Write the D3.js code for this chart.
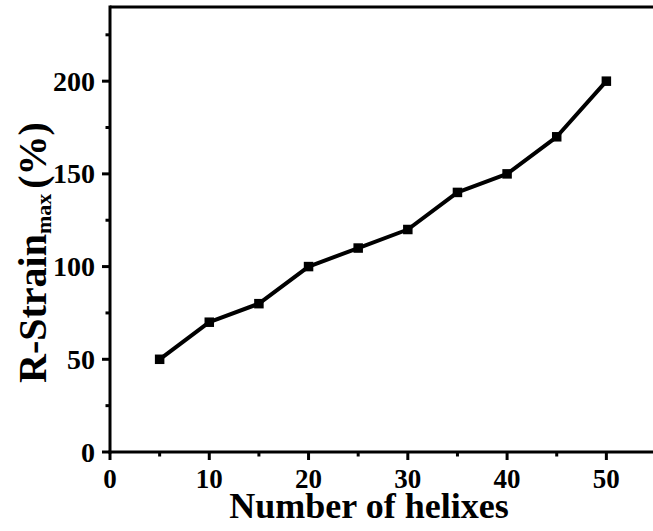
<!DOCTYPE html>
<html>
<head>
<meta charset="utf-8">
<script src="https://cdn.jsdelivr.net/npm/d3@7"></script>
<style>
  html, body { margin: 0; padding: 0; background: #fff; }
  svg { display: block; }
  text { font-family: "Liberation Serif", "Times New Roman", serif; font-weight: bold; fill: #000; }
</style>
</head>
<body>
<script>
// Number of helixes vs. maximum recoverable strain
const helixes = [5, 10, 15, 20, 25, 30, 35, 40, 45, 50];
const strainMax = [50, 70, 80, 100, 110, 120, 140, 150, 170, 200];
const xMajorTicks = [0, 10, 20, 30, 40, 50];
const xMinorTicks = [5, 15, 25, 35, 45];
const yMajorTicks = [0, 50, 100, 150, 200];
const yMinorTicks = [25, 75, 125, 175, 225];

const W = 653, H = 531;
const svg = d3.select("body").append("svg").attr("width", W).attr("height", H);

const x = d3.scaleLinear().domain([0, 55]).range([110, 656]);
const y = d3.scaleLinear().domain([0, 240]).range([452, 7]);

const axisW = 3;

// frame: top edge (right side runs off the page)
svg.append("line")
  .attr("x1", x(0)).attr("x2", W + 5)
  .attr("y1", y(240)).attr("y2", y(240))
  .attr("stroke", "#000").attr("stroke-width", axisW);

// bottom axis
const gx = svg.append("g").attr("transform", `translate(0,${y(0)})`);
gx.append("line").attr("x1", x(0) - 1.5).attr("x2", W + 5)
  .attr("stroke", "#000").attr("stroke-width", axisW);
gx.selectAll(".maj").data(xMajorTicks).join("line")
  .attr("x1", d => x(d)).attr("x2", d => x(d)).attr("y1", 0).attr("y2", 8)
  .attr("stroke", "#000").attr("stroke-width", axisW);
gx.selectAll(".min").data(xMinorTicks).join("line")
  .attr("x1", d => x(d)).attr("x2", d => x(d)).attr("y1", 0).attr("y2", 4.5)
  .attr("stroke", "#000").attr("stroke-width", axisW);
gx.selectAll("text").data(xMajorTicks).join("text")
  .attr("x", d => x(d)).attr("y", 36)
  .attr("text-anchor", "middle").attr("font-size", 27)
  .text(d => d);

// left axis
const gy = svg.append("g").attr("transform", `translate(${x(0)},0)`);
gy.append("line").attr("y1", y(240) - 1.5).attr("y2", y(0) + 1.5)
  .attr("stroke", "#000").attr("stroke-width", axisW);
gy.selectAll(".maj").data(yMajorTicks).join("line")
  .attr("y1", d => y(d)).attr("y2", d => y(d)).attr("x1", 0).attr("x2", -8)
  .attr("stroke", "#000").attr("stroke-width", axisW);
gy.selectAll(".min").data(yMinorTicks).join("line")
  .attr("y1", d => y(d)).attr("y2", d => y(d)).attr("x1", 0).attr("x2", -4.5)
  .attr("stroke", "#000").attr("stroke-width", axisW);
gy.selectAll("text").data(yMajorTicks).join("text")
  .attr("x", -15).attr("y", d => y(d) + 9.5)
  .attr("text-anchor", "end").attr("font-size", 28)
  .text(d => d);

// axis titles
svg.append("text")
  .attr("x", 369).attr("y", 518)
  .attr("text-anchor", "middle").attr("font-size", 36)
  .text("Number of helixes");

const yt = svg.append("text")
  .attr("transform", "translate(46,383) rotate(-90)")
  .attr("text-anchor", "start").attr("font-size", 40);
yt.append("tspan").text("R-Strain");
yt.append("tspan").attr("font-size", 22).attr("dy", 5).text("max");
yt.append("tspan").attr("dy", -5).attr("dx", 5).text("(%)");

// data line and square markers
const pts = helixes.map((h, i) => [h, strainMax[i]]);
svg.append("path")
  .datum(pts)
  .attr("fill", "none").attr("stroke", "#000").attr("stroke-width", 4)
  .attr("stroke-linejoin", "round")
  .attr("d", d3.line().x(d => x(d[0])).y(d => y(d[1])));

const s = 9.5;
svg.selectAll("rect.mk").data(pts).join("rect")
  .attr("class", "mk")
  .attr("x", d => x(d[0]) - s / 2).attr("y", d => y(d[1]) - s / 2)
  .attr("width", s).attr("height", s).attr("fill", "#000");
</script>
</body>
</html>
